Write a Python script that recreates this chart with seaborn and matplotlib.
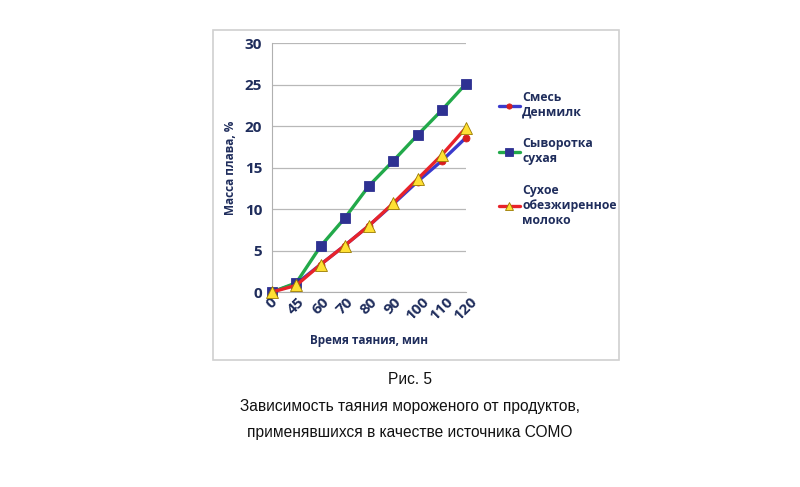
import pandas as pd
import matplotlib.pyplot as plt
import matplotlib.patches as mpatches
from matplotlib.lines import Line2D
import seaborn as sns

# Data
times = ['0', '45', '60', '70', '80', '90', '100', '110', '120']
denmilk = [0, 1.0, 3.3, 5.6, 8.0, 10.6, 13.3, 15.8, 18.6]
whey = [0, 1.1, 5.5, 8.9, 12.8, 15.8, 18.9, 21.9, 25.1]
skim_milk = [0, 0.8, 3.3, 5.6, 8.0, 10.7, 13.6, 16.5, 19.8]
labels = ['Смесь\nДенмилк', 'Сыворотка\nсухая', 'Сухое\nобезжиренное\nмолоко']

sns.set_style('white')
plt.rcParams['font.family'] = ['Open Sans', 'DejaVu Sans']

navy = '#1f2d5c'
df = pd.DataFrame({'time': times, 'denmilk': denmilk, 'whey': whey, 'skim': skim_milk})
df['pos'] = range(len(times))

fig = plt.figure(figsize=(8, 4.87), dpi=100)
ax = fig.add_axes([0.34, 0.4004, 0.2425, 0.5113])

# outer chart frame
fig.patches.append(mpatches.Rectangle((213 / 800, 1 - 360 / 487), 406 / 800, 330 / 487,
                                      transform=fig.transFigure, fill=False,
                                      edgecolor='#d0d0d0', linewidth=1.2))

styles = [
    ('denmilk', '#3a3acc', 'o', '#d81e1e', '#d81e1e', 5),
    ('whey', '#22a94a', 's', '#2e3192', '#2e3192', 7.5),
    ('skim', '#e8232a', '^', '#ffe033', '#9a7a00', 8),
]
for col, lc, mk, mfc, mec, ms in styles:
    sns.lineplot(data=df, x='pos', y=col, ax=ax, color=lc, linewidth=2.4,
                 marker=mk, markersize=ms, markerfacecolor=mfc,
                 markeredgecolor=mec, markeredgewidth=0.6, zorder=3, clip_on=False)

ax.set_xlim(0, len(times) - 1)
ax.set_ylim(0, 30)
ax.set_xticks(df['pos'])
ax.set_xticklabels(times, rotation=45, fontsize=11, fontweight='bold', color=navy)
ax.set_yticks(range(0, 31, 5))
ax.tick_params(axis='y', labelsize=11, labelcolor=navy, length=0, pad=7)
ax.tick_params(axis='x', length=0, pad=2)
for t in ax.get_yticklabels():
    t.set_fontweight('bold')
ax.grid(axis='y', color='#b8b8b8', linewidth=0.9)
ax.grid(axis='x', visible=False)
for s in ['top', 'right']:
    ax.spines[s].set_visible(False)
ax.spines['left'].set_color('#b0b0b0')
ax.spines['bottom'].set_color('#b0b0b0')
ax.set_xlabel('Время таяния, мин', fontsize=8.5, fontweight='bold', color=navy, labelpad=8)
ax.set_ylabel('Масса плава, %', fontsize=8.5, fontweight='bold', color=navy, labelpad=6)

handles = [Line2D([], [], color=lc, linewidth=2.4, marker=mk, markersize=ms * 0.75,
                  markerfacecolor=mfc, markeredgecolor=mec, markeredgewidth=0.6)
           for _, lc, mk, mfc, mec, ms in styles]
leg = fig.legend(handles, labels, loc='upper left', bbox_to_anchor=(488 / 800, 1 - 80 / 487),
                 frameon=False, handlelength=1.7, handletextpad=0.2, labelspacing=1.5,
                 prop={'size': 8.8, 'weight': 'bold'})
for t in leg.get_texts():
    t.set_color(navy)

cap = dict(ha='center', va='center', fontsize=11.2, family='Liberation Sans', color='#111111')
fig.text(410 / 800, 1 - 380 / 487, 'Рис. 5', **cap)
fig.text(410 / 800, 1 - 407 / 487, 'Зависимость таяния мороженого от продуктов,', **cap)
fig.text(410 / 800, 1 - 433 / 487, 'применявшихся в качестве источника СОМО', **cap)

fig.savefig('out.png', dpi=100)
